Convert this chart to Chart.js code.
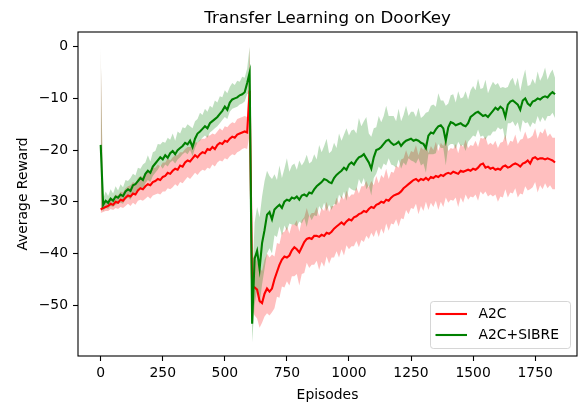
<!DOCTYPE html>
<html>
<head>
<meta charset="utf-8">
<script src="https://cdn.jsdelivr.net/npm/chart.js@4.4.1/dist/chart.umd.min.js"></script>
<style>
  html, body { margin:0; padding:0; background:#fff; }
  canvas { display:block; }
</style>
</head>
<body>
<canvas id="chart" width="580" height="404"></canvas>
<script>
// episodes are logged every 10 steps, index i -> episode i*STEP
const STEP = 10;
const xTicks = [0, 250, 500, 750, 1000, 1250, 1500, 1750];
const yTicks = [0, -10, -20, -30, -40, -50];
const seriesNames = ['A2C', 'A2C+SIBRE'];

const a2cMean = [
  -31.5,-31.2,-31.0,-30.8,-30.4,-30.6,-30.0,-30.2,-29.6,-29.8,
  -29.2,-28.8,-29.0,-28.4,-28.6,-27.8,-27.4,-27.6,-27.0,-26.6,
  -26.8,-26.2,-26.0,-25.6,-25.8,-25.2,-25.0,-24.4,-24.6,-24.0,
  -23.6,-23.8,-23.0,-23.2,-22.4,-22.0,-22.2,-21.6,-21.0,-21.4,
  -20.8,-20.4,-20.6,-19.8,-20.0,-19.4,-19.8,-19.0,-18.6,-18.8,
  -18.2,-18.4,-17.8,-17.4,-17.6,-17.0,-16.8,-16.6,-16.4,-16.6,
  -8.5,-46.4,-46.6,-47.0,-49.2,-49.6,-47.8,-46.8,-47.4,-46.8,
  -45.0,-43.6,-42.2,-41.2,-40.6,-40.8,-40.4,-39.4,-38.8,-39.2,
  -39.8,-38.8,-37.8,-37.2,-37.0,-37.2,-36.6,-36.6,-36.8,-36.4,
  -36.6,-36.0,-36.2,-35.8,-35.2,-34.8,-34.4,-34.0,-34.4,-33.8,
  -33.4,-33.6,-33.0,-32.8,-32.4,-32.2,-31.8,-32.0,-31.4,-31.0,
  -31.2,-30.6,-30.4,-30.0,-30.2,-29.6,-29.8,-29.2,-28.8,-28.6,
  -28.4,-28.0,-27.4,-27.0,-26.6,-26.2,-25.8,-25.6,-26.0,-25.6,
  -25.8,-25.4,-25.8,-25.2,-25.4,-25.0,-25.2,-24.8,-25.0,-24.6,
  -24.4,-24.6,-24.2,-24.4,-24.6,-24.0,-24.2,-24.0,-23.8,-24.0,
  -23.6,-23.8,-23.4,-22.8,-22.6,-23.4,-23.2,-23.6,-23.4,-23.8,
  -23.6,-23.8,-23.2,-23.0,-23.4,-23.2,-22.8,-22.6,-22.8,-23.2,
  -22.6,-22.4,-22.0,-22.6,-21.6,-21.4,-21.8,-21.6,-21.6,-21.8,
  -21.6,-21.8,-22.0,-22.4
];
const a2cHigh = [
  0,-30.4,-30.0,-29.6,-29.2,-29.4,-28.6,-28.8,-28.0,-28.2,
  -27.4,-27.0,-26.8,-26.2,-26.4,-25.4,-25.0,-25.2,-24.6,-24.0,
  -24.2,-23.4,-23.4,-22.8,-23.2,-22.4,-22.4,-21.6,-22.0,-21.4,
  -21.0,-21.0,-20.4,-20.4,-19.8,-19.4,-19.4,-19.0,-18.4,-18.6,
  -18.0,-17.8,-17.8,-17.2,-17.2,-16.8,-17.0,-16.4,-15.8,-16.2,
  -15.4,-15.6,-15.0,-14.6,-14.8,-14.0,-13.8,-13.6,-13.4,-13.6,
  0,-41.0,-40.4,-41.6,-42.8,-43.4,-41.2,-40.0,-40.8,-40.2,
  -40.6,-38.0,-38.2,-36.0,-35.8,-34.8,-36.2,-34.4,-34.4,-33.6,
  -35.8,-33.6,-33.0,-31.2,-32.8,-32.2,-32.2,-31.0,-32.8,-31.2,
  -31.8,-30.0,-32.0,-30.8,-30.8,-29.2,-30.4,-28.8,-29.6,-27.8,
  -29.2,-28.6,-28.6,-27.2,-28.4,-27.0,-27.0,-26.0,-27.2,-26.0,
  -26.8,-25.0,-26.4,-24.8,-25.4,-23.6,-25.6,-24.2,-24.4,-23.0,
  -23.4,-21.8,-21.6,-20.0,-21.4,-20.2,-20.4,-19.0,-21.0,-19.4,
  -20.0,-18.4,-20.6,-19.2,-20.0,-18.4,-20.2,-18.6,-19.2,-17.6,
  -20.2,-19.6,-19.8,-18.8,-20.6,-18.8,-19.4,-18.0,-19.6,-19.0,
  -19.2,-18.2,-19.4,-17.6,-17.8,-17.4,-19.0,-18.6,-19.0,-18.2,
  -19.6,-18.6,-18.4,-17.0,-19.2,-18.2,-18.4,-17.0,-18.8,-18.0,
  -17.8,-16.4,-17.8,-17.6,-17.2,-15.8,-17.8,-16.4,-16.8,-15.8,
  -17.4,-16.8,-17.6,-17.6
];
const a2cLow = [
  -32.2,-32.0,-31.8,-31.8,-31.4,-31.6,-31.2,-31.4,-31.0,-31.2,
  -30.8,-30.4,-30.8,-30.2,-30.6,-29.8,-29.6,-29.8,-29.4,-29.0,
  -29.4,-28.8,-28.6,-28.4,-28.6,-28.0,-28.0,-27.4,-27.6,-27.2,
  -26.6,-27.0,-26.2,-26.4,-25.8,-25.2,-25.6,-25.0,-24.4,-24.8,
  -24.2,-23.8,-24.0,-23.4,-23.6,-22.8,-23.2,-22.4,-22.0,-22.2,
  -21.6,-21.8,-21.2,-20.8,-21.0,-20.4,-20.2,-19.8,-19.6,-19.8,
  -17.0,-51.0,-52.0,-52.6,-54.4,-53.4,-52.2,-51.6,-52.0,-51.4,
  -50.6,-48.4,-48.6,-46.4,-46.6,-45.4,-46.2,-44.4,-44.4,-44.0,
  -46.2,-44.0,-43.8,-41.8,-42.8,-42.2,-42.2,-41.4,-43.2,-41.6,
  -42.6,-40.6,-42.0,-40.8,-40.8,-39.6,-40.8,-39.2,-40.4,-38.4,
  -39.2,-38.6,-38.6,-37.6,-38.8,-37.4,-37.8,-36.6,-37.2,-36.0,
  -36.8,-35.4,-36.8,-35.2,-36.2,-34.2,-35.6,-34.2,-34.4,-33.4,
  -34.8,-33.2,-33.4,-31.6,-32.4,-31.2,-31.4,-30.4,-32.4,-30.8,
  -31.8,-30.0,-31.6,-30.2,-31.0,-29.8,-31.6,-30.0,-31.0,-29.2,
  -30.2,-29.6,-29.8,-29.2,-31.0,-29.2,-30.2,-28.6,-29.6,-29.0,
  -29.2,-28.6,-29.8,-28.0,-28.6,-28.0,-29.0,-28.6,-29.0,-28.6,
  -30.0,-29.0,-29.2,-27.6,-29.2,-28.2,-28.4,-27.4,-29.2,-28.4,
  -28.6,-27.0,-27.8,-27.6,-27.2,-26.2,-28.2,-26.8,-27.6,-26.4,
  -27.4,-26.8,-27.6,-27.6
];

const sibreMean = [
  -19.0,-30.6,-29.8,-30.2,-29.4,-29.8,-29.0,-29.2,-28.6,-28.9,
  -28.0,-27.6,-27.9,-26.8,-26.6,-26.0,-25.4,-25.8,-24.6,-24.0,
  -24.4,-23.2,-22.6,-22.0,-21.4,-21.8,-21.0,-21.5,-20.6,-20.2,
  -20.8,-20.0,-19.6,-19.2,-18.6,-18.9,-18.2,-19.4,-17.8,-16.8,
  -16.4,-15.9,-15.4,-15.8,-14.8,-14.4,-14.0,-13.6,-13.0,-12.4,
  -11.6,-12.2,-10.8,-10.2,-10.0,-9.8,-9.4,-9.2,-8.8,-7.0,
  -5.0,-53.6,-41.0,-39.5,-43.0,-38.0,-35.5,-32.5,-32.0,-33.4,
  -31.5,-31.0,-30.6,-31.2,-30.0,-29.6,-29.8,-29.2,-29.4,-29.0,
  -29.6,-28.8,-28.6,-28.9,-28.2,-28.4,-27.6,-27.0,-26.6,-26.2,
  -25.6,-25.8,-26.2,-26.4,-25.4,-24.8,-24.4,-24.0,-23.4,-23.8,
  -22.8,-22.4,-22.8,-22.0,-21.4,-21.2,-20.8,-21.6,-22.4,-23.6,
  -21.4,-20.0,-19.8,-19.4,-18.8,-18.2,-18.0,-18.6,-19.0,-18.8,
  -18.4,-19.2,-18.6,-18.2,-18.0,-17.8,-18.2,-18.0,-18.2,-18.6,
  -18.8,-19.6,-17.2,-16.6,-16.8,-16.0,-15.4,-15.2,-15.8,-18.2,
  -15.6,-14.6,-14.8,-15.2,-15.0,-14.8,-15.2,-15.4,-14.8,-13.6,
  -13.2,-12.8,-12.6,-13.0,-13.4,-13.2,-13.6,-13.0,-12.4,-11.8,
  -12.2,-11.6,-12.0,-13.6,-11.2,-10.6,-10.4,-10.8,-11.2,-12.2,
  -10.4,-10.0,-11.0,-11.4,-10.6,-10.4,-10.0,-10.2,-9.8,-9.6,
  -9.8,-9.2,-8.8,-9.2
];
const sibreHigh = [
  0,-29.4,-28.0,-28.9,-27.6,-28.4,-27.0,-27.8,-26.6,-27.2,
  -25.8,-26.0,-25.4,-24.6,-24.9,-23.4,-23.6,-22.8,-22.4,-21.0,
  -22.2,-20.4,-20.2,-18.8,-18.9,-18.4,-18.6,-17.6,-18.0,-16.8,
  -18.2,-16.4,-16.8,-15.6,-15.8,-15.0,-15.4,-15.8,-14.4,-14.0,
  -12.8,-13.2,-12.0,-12.6,-11.4,-11.8,-10.4,-10.8,-9.6,-9.8,
  -8.4,-9.0,-7.8,-7.0,-7.4,-6.6,-6.8,-5.8,-6.0,-4.2,
  0,-46.0,-34.0,-31.0,-33.0,-29.0,-26.0,-24.0,-25.0,-25.6,
  -24.7,-25.8,-23.0,-25.4,-23.6,-21.6,-24.2,-23.0,-22.6,-23.8,
  -22.0,-23.0,-22.2,-20.9,-22.6,-22.2,-20.8,-21.8,-19.0,-20.4,
  -19.2,-17.8,-20.6,-20.2,-18.6,-19.6,-16.8,-18.2,-17.0,-15.8,
  -17.2,-16.2,-16.0,-16.8,-13.8,-15.4,-14.4,-13.6,-16.8,-17.4,
  -15.8,-15.6,-13.4,-14.6,-13.4,-11.4,-13.4,-13.4,-13.4,-14.4,
  -12.0,-14.4,-13.2,-11.4,-13.4,-12.6,-12.6,-13.6,-11.8,-13.8,
  -13.4,-12.8,-12.6,-11.4,-11.2,-11.6,-9.0,-10.4,-10.4,-11.4,
  -11.0,-9.4,-9.2,-10.8,-8.6,-10.0,-9.8,-8.6,-10.2,-8.4,
  -7.6,-8.4,-6.2,-8.2,-8.0,-6.4,-9.0,-7.8,-6.8,-7.4,
  -7.0,-8.0,-7.8,-8.0,-7.8,-6.6,-6.0,-7.6,-6.0,-8.6,
  -6.2,-4.4,-7.6,-7.4,-6.2,-7.2,-4.8,-6.6,-5.6,-4.0,
  -6.4,-5.2,-4.4,-6.0
];
const sibreLow = [
  -31.0,-31.8,-31.2,-31.4,-30.8,-31.0,-30.6,-30.4,-30.2,-30.4,
  -29.6,-29.2,-29.6,-28.6,-28.2,-27.8,-27.2,-27.6,-26.4,-25.8,
  -26.2,-25.0,-24.4,-23.8,-23.0,-23.6,-22.8,-23.2,-22.4,-22.0,
  -22.6,-21.8,-21.4,-20.8,-20.4,-20.8,-20.0,-21.2,-19.6,-18.6,
  -18.2,-17.6,-17.2,-17.6,-16.6,-16.2,-15.8,-15.4,-14.8,-14.2,
  -13.6,-14.0,-12.6,-12.0,-11.8,-11.6,-11.2,-11.0,-10.6,-9.2,
  -9.0,-57.2,-50.0,-47.0,-50.0,-46.0,-43.0,-40.0,-39.0,-40.0,
  -36.5,-36.8,-34.8,-36.6,-34.6,-35.6,-34.2,-34.4,-34.4,-34.8,
  -33.8,-34.2,-33.2,-34.9,-32.6,-33.6,-32.6,-32.8,-30.8,-31.6,
  -30.2,-31.8,-30.6,-31.6,-30.4,-30.6,-28.6,-29.4,-28.0,-29.8,
  -27.2,-27.6,-27.8,-27.8,-25.6,-26.6,-25.4,-27.6,-26.8,-28.8,
  -25.4,-24.6,-23.2,-23.8,-22.6,-23.0,-21.6,-22.8,-23.0,-23.4,
  -21.8,-23.6,-22.4,-23.0,-21.6,-22.0,-22.2,-22.6,-21.6,-23.0,
  -22.6,-24.4,-20.8,-20.8,-20.8,-20.6,-18.8,-19.6,-19.6,-23.0,
  -19.2,-18.8,-18.8,-19.8,-18.4,-19.2,-19.0,-20.2,-18.4,-17.8,
  -17.2,-17.4,-16.0,-17.4,-17.2,-18.0,-17.2,-17.2,-16.4,-16.4,
  -15.6,-16.0,-15.8,-18.4,-14.8,-14.8,-14.4,-15.4,-14.6,-16.6,
  -14.2,-14.8,-14.6,-15.6,-14.6,-15.0,-13.4,-14.6,-13.6,-14.4,
  -13.4,-13.4,-12.8,-13.8
];

const RED = '#ff0000';
const GREEN = '#008000';
const FONT = '"DejaVu Sans", Verdana, sans-serif';

function toPoints(arr){
  return arr.map((y, i) => ({ x: i * STEP, y: y }));
}

function band(arr, fill, color, order){
  return {
    data: toPoints(arr), borderWidth: 0, pointRadius: 0,
    fill: fill, backgroundColor: color, order: order
  };
}

const frameAndLabels = {
  id: 'frameAndLabels',
  afterDraw(chart){
    const ctx = chart.ctx;
    const a = chart.chartArea;
    ctx.save();
    // spines
    ctx.strokeStyle = '#000';
    ctx.lineWidth = 1.1;
    ctx.strokeRect(a.left, a.top, a.right - a.left, a.bottom - a.top);

    ctx.fillStyle = '#000';
    ctx.textAlign = 'center';
    ctx.textBaseline = 'alphabetic';
    const cx = (a.left + a.right) / 2;
    ctx.font = '16.7px ' + FONT;
    ctx.fillText('Transfer Learning on DoorKey', cx, 23);
    ctx.font = '13.9px ' + FONT;
    ctx.fillText('Episodes', cx, 399);
    ctx.save();
    ctx.translate(27, (a.top + a.bottom) / 2);
    ctx.rotate(-Math.PI / 2);
    ctx.fillText('Average Reward', 0, 0);
    ctx.restore();

    // legend, lower right
    const w = 140, h = 47;
    const lx = a.right - 6.5 - w, ly = a.bottom - 7.5 - h;
    ctx.beginPath();
    ctx.roundRect(lx, ly, w, h, 3);
    ctx.fillStyle = 'rgba(255,255,255,0.8)';
    ctx.fill();
    ctx.strokeStyle = 'rgba(204,204,204,0.8)';
    ctx.lineWidth = 1;
    ctx.stroke();
    const colors = [RED, GREEN];
    seriesNames.forEach((name, i) => {
      const y = ly + 12.5 + i * 21;
      ctx.strokeStyle = colors[i];
      ctx.lineWidth = 2.1;
      ctx.beginPath();
      ctx.moveTo(lx + 5, y);
      ctx.lineTo(lx + 36.5, y);
      ctx.stroke();
      ctx.fillStyle = '#000';
      ctx.textAlign = 'left';
      ctx.textBaseline = 'middle';
      ctx.fillText(name, lx + 48, y);
    });
    ctx.restore();
  }
};

const tickFont = { family: FONT, size: 13.9 };

new Chart(document.getElementById('chart'), {
  type: 'line',
  data: {
    datasets: [
      { label: seriesNames[1], data: toPoints(sibreMean), borderColor: GREEN, borderWidth: 2.1, pointRadius: 0, fill: false, order: 0 },
      { label: seriesNames[0], data: toPoints(a2cMean), borderColor: RED, borderWidth: 2.1, pointRadius: 0, fill: false, order: 1 },
      band(a2cLow, false, 'transparent', 3),
      band(a2cHigh, '-1', 'rgba(255,0,0,0.25)', 3),
      band(sibreLow, false, 'transparent', 2),
      band(sibreHigh, '-1', 'rgba(0,128,0,0.25)', 2)
    ]
  },
  options: {
    responsive: false,
    animation: false,
    devicePixelRatio: 1,
    layout: { padding: { top: 32, right: 3, left: 0, bottom: 0 } },
    elements: { line: { tension: 0 }, point: { radius: 0 } },
    plugins: { legend: { display: false }, tooltip: { enabled: false }, title: { display: false } },
    scales: {
      x: {
        type: 'linear', min: -91.4, max: 1918.6,
        afterFit: s => { s.height = 48; },
        afterBuildTicks: s => { s.ticks = xTicks.map(v => ({ value: v })); },
        border: { display: false },
        grid: { drawOnChartArea: false, drawTicks: true, tickLength: 5, tickWidth: 1.1, tickColor: '#000' },
        ticks: { font: tickFont, color: '#000', padding: 4, maxRotation: 0, autoSkip: false, callback: v => String(v) }
      },
      y: {
        type: 'linear', min: -59.85, max: 2.85,
        afterFit: s => { s.width = 78; },
        afterBuildTicks: s => { s.ticks = yTicks.map(v => ({ value: v })); },
        border: { display: false },
        grid: { drawOnChartArea: false, drawTicks: true, tickLength: 5, tickWidth: 1.1, tickColor: '#000' },
        ticks: { font: tickFont, color: '#000', padding: 5, autoSkip: false, callback: v => String(v).replace('-', '\u2212') }
      }
    }
  },
  plugins: [frameAndLabels]
});
</script>
</body>
</html>
